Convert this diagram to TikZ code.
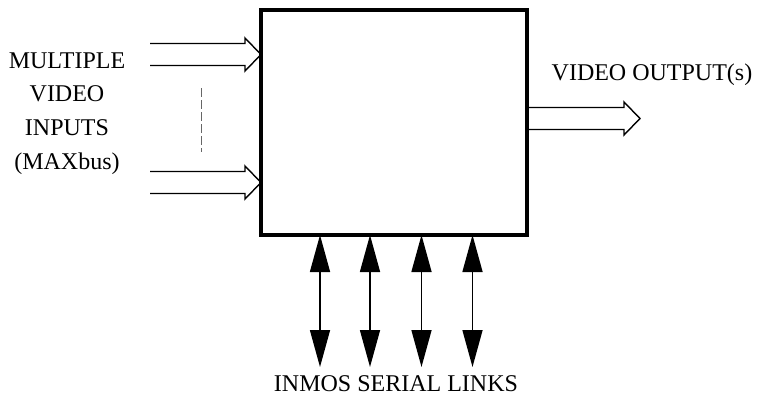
\documentclass[tikz,border=0pt]{standalone}
\usepackage{fontspec}
\setmainfont{Liberation Serif}
\usetikzlibrary{arrows.meta,calc}
\tikzset{
  procbox/.style={rectangle, draw, line width=4pt, outer sep=0pt, inner sep=0pt,
    minimum width=266pt, minimum height=225pt},
  lbl/.style={font=\fontsize{24}{33.7}\selectfont, align=center, inner sep=0pt},
  hollow/.style={line width=1.4pt, line join=miter},
  linkarrow/.style={{Triangle[length=37pt,width=20pt]}-{Triangle[length=37pt,width=20pt]},
    line width=1.5pt},
  guide/.style={line width=1pt, black!60, dash pattern=on 9pt off 3pt},
}
% open outline arrow from #1 to tip #2
\newcommand{\openarrow}[2]{%
  \draw[hollow] ($(#1)+(0,-11)$) -- ($(#2)+(-16,-11)$) -- ($(#2)+(-16,-16.5)$)
    -- (#2) -- ($(#2)+(-16,16.5)$) -- ($(#2)+(-16,11)$) -- ($(#1)+(0,11)$);}

\begin{document}
\begin{tikzpicture}[x=1pt, y=-1pt]
  \useasboundingbox (0,0) rectangle (758,397);
  \node[procbox] (proc) at (394,122.5) {};
  \node[lbl] (inputs) at (67,113.5) {MULTIPLE\\VIDEO\\INPUTS\\(MAXbus)};
  \node[lbl] (outputs) at (652,75) {VIDEO OUTPUT(s)};
  \node[lbl] (links) at (396,384) {INMOS SERIAL LINKS};
  % video inputs
  \coordinate (in1) at (150,54.5);
  \coordinate (in2) at (150,182.5);
  \coordinate (tip1) at (proc.west |- in1);
  \coordinate (tip2) at (proc.west |- in2);
  \openarrow{in1}{tip1}
  \openarrow{in2}{tip2}
  \coordinate (gap1) at (201,88);
  \coordinate (gap2) at (201,152);
  \draw[guide] (gap1) -- (gap2);
  % video output
  \coordinate (out) at (640,118.5);
  \coordinate (outbase) at (proc.east |- out);
  \openarrow{outbase}{out}
  % serial links
  \foreach \x [count=\i] in {320,370,421.5,472.5} {
    \coordinate (end\i) at (\x,367);
    \draw[linkarrow] (proc.south -| end\i) -- (end\i);
  }
\end{tikzpicture}
\end{document}
